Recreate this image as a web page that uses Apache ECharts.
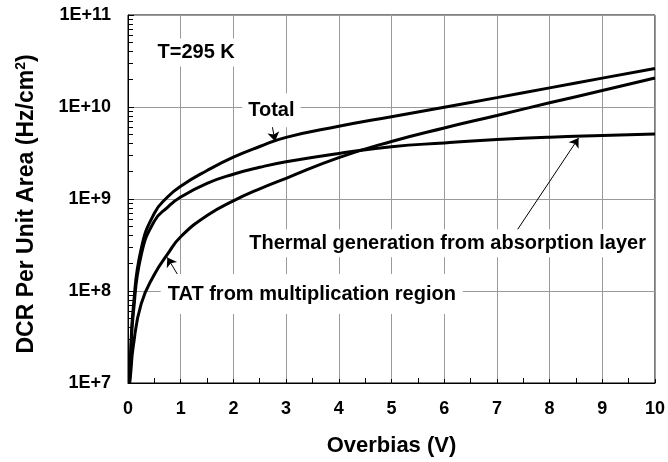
<!DOCTYPE html>
<html><head><meta charset="utf-8">
<script src="https://cdn.jsdelivr.net/npm/echarts@6/dist/echarts.min.js"></script>
<style>html,body{margin:0;padding:0;background:#fff}#c{width:668px;height:462px}</style>
</head><body><div id="c"></div>
<script>
// Overbias (V)
const overbias   = [0.03, 0.05, 0.1, 0.25, 0.5, 0.75, 1, 1.5, 2, 2.5, 3, 4, 5, 6, 7, 8, 9, 10];
// DCR per unit area (Hz/cm^2)
const totalDCR   = [1.05e7, 2.09e7, 6.61e7, 2.88e8, 7.0e8, 1.05e9, 1.38e9, 2.04e9, 2.85e9, 3.72e9, 4.68e9, 6.17e9, 7.85e9, 9.95e9, 1.265e10, 1.614e10, 2.06e10, 2.62e10];
const thermalDCR = [1.0e7, 2.0e7, 5.62e7, 2.45e8, 5.75e8, 8.13e8, 1.05e9, 1.48e9, 1.86e9, 2.21e9, 2.54e9, 3.13e9, 3.70e9, 4.07e9, 4.42e9, 4.70e9, 4.90e9, 5.08e9];
const tatDCR     = [1.0e7, 1.26e7, 2.51e7, 7.24e7, 1.51e8, 2.51e8, 3.89e8, 6.61e8, 9.55e8, 1.29e9, 1.68e9, 2.82e9, 4.22e9, 5.92e9, 8.09e9, 1.11e10, 1.51e10, 2.07e10];
// axis
const xRange = [0, 10];
const yDecades = [1e7, 1e8, 1e9, 1e10, 1e11];
const yMinorMultipliers = [2, 3, 4, 5, 6, 7, 8, 9];
const yMinorTickLenX = 0.095; // minor tick length along x (axis units)

// annotations: text anchor in data space
const annTemp = {text: 'T=295 K', at: [0.56, 3.9e10]};
const annTotal = {text: 'Total', at: [2.72, 9.46e9]};
const annThermal = {text: 'Thermal generation from absorption layer', at: [2.30, 3.3e8]};
const annTAT = {text: 'TAT from multiplication region', at: [0.754, 1.0e8]};
const arrows = [
  [[2.72, 7.0e9], [2.79, 4.25e9]],
  [[7.32, 4.04e8], [8.55, 4.6e9]],
  [[0.978, 1.39e8], [0.746, 2.32e8]]
];

const FONT = '"Liberation Sans", Arial, sans-serif';
const chart = echarts.init(document.getElementById('c'), null, {renderer: 'canvas'});
const mk = arr => overbias.map((x, i) => [x, arr[i]]);
const lineSeries = (name, arr) => ({
  name, type: 'line', data: mk(arr), smooth: 0.5, showSymbol: false, symbol: 'none',
  lineStyle: {color: '#000', width: 3}, z: 3, silent: true
});
const s0 = lineSeries('Total', totalDCR);
s0.markLine = {
  silent: true, symbol: ['none', 'arrow'], symbolSize: 9, animation: false,
  lineStyle: {color: '#000', width: 1, type: 'solid'}, label: {show: false},
  data: arrows.map(a => [{coord: a[0]}, {coord: a[1]}])
};
const yMinorTicks = [];
yDecades.slice(0, -1).forEach(d => yMinorMultipliers.forEach(k => yMinorTicks.push(k * d)));
const s1 = lineSeries('Thermal', thermalDCR);
s1.markLine = {
  silent: true, symbol: ['none', 'none'], animation: false,
  lineStyle: {color: '#000', width: 1, type: 'solid'}, label: {show: false},
  data: yMinorTicks.map(v => [{coord: [xRange[0], v]}, {coord: [xRange[0] + yMinorTickLenX, v]}])
};

chart.setOption({
  animation: false,
  backgroundColor: '#fff',
  grid: {left: 128, right: 11, top: 15, bottom: 76, show: true, borderColor: '#000', borderWidth: 1},
  xAxis: {
    type: 'value', min: xRange[0], max: xRange[1], interval: 1,
    axisLine: {show: true, lineStyle: {color: '#000', width: 1}},
    axisTick: {show: true, inside: true, length: 4, lineStyle: {color: '#000'}},
    minorTick: {show: true, splitNumber: 2, length: 5, lineStyle: {color: '#000'}},
    splitLine: {show: true, lineStyle: {color: '#9a9a9a', width: 1}},
    axisLabel: {color: '#000', fontSize: 18, fontWeight: 'bold', fontFamily: FONT, margin: 17},
    name: 'Overbias (V)', nameLocation: 'middle', nameGap: 52,
    nameTextStyle: {color: '#000', fontSize: 22, fontWeight: 'bold', fontFamily: FONT}
  },
  yAxis: {
    type: 'log', logBase: 10, min: yDecades[0], max: yDecades[yDecades.length - 1],
    axisLine: {show: true, lineStyle: {color: '#000', width: 1}},
    axisTick: {show: true, inside: true, length: 6, lineStyle: {color: '#000'}},
    splitLine: {show: true, lineStyle: {color: '#9a9a9a', width: 1}},
    axisLabel: {color: '#000', fontSize: 18, fontWeight: 'bold', fontFamily: FONT, margin: 17,
      formatter: v => '1E+' + Math.round(Math.log10(v))}
  },
  series: [s0, s1, lineSeries('TAT', tatDCR)]
});

const px = p => chart.convertToPixel({xAxisIndex: 0, yAxisIndex: 0}, p);
const txt = (a, align, pad) => {
  const p = px(a.at);
  return {type: 'text', x: p[0] - (align === 'left' ? pad[3] : 0), y: p[1] + (pad[2] - pad[0]) / 2, z: 100, silent: true,
    style: {text: a.text, fill: '#000', font: 'bold 20px ' + FONT, align: align, verticalAlign: 'middle',
      backgroundColor: '#fff', padding: pad}};
};
chart.setOption({graphic: {elements: [
  txt(annTemp, 'left', [4, 4, 4, 4]),
  txt(annTotal, 'center', [6, 6, 8, 6]),
  txt(annThermal, 'left', [4, 4, 4, 4]),
  txt(annTAT, 'left', [7, 7, 13, 7]),
  {type: 'text', x: 27, y: 204, rotation: Math.PI / 2, silent: true, z: 100,
   style: {text: '{a|DCR Per Unit Area (Hz/cm}{s|2}{a|)}', align: 'center', verticalAlign: 'middle', fill: '#000',
     rich: {a: {fontSize: 23, fontWeight: 'bold', fontFamily: FONT, fill: '#000', lineHeight: 26},
            s: {fontSize: 14, fontWeight: 'bold', fontFamily: FONT, fill: '#000', verticalAlign: 'top', lineHeight: 14}}}}
]}});
</script></body></html>
